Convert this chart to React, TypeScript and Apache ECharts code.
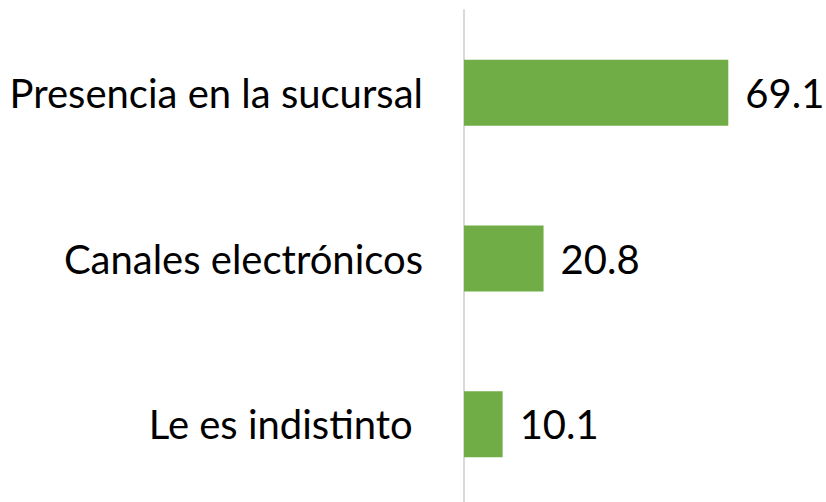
import React, { useEffect, useRef } from "react";
import * as echarts from "echarts";

const categories = ["Presencia en la sucursal", "Canales electrónicos", "Le es indistinto "];
const values = [69.1, 20.8, 10.1];

const FONT = "Lato, 'Liberation Sans', sans-serif";

export default function App() {
  const ref = useRef<HTMLDivElement>(null);
  useEffect(() => {
    document.body.style.margin = "0";
    const chart = echarts.init(ref.current!, null, { renderer: "svg" });
    chart.setOption({
      animation: false,
      backgroundColor: "#ffffff",
      grid: {
        left: 464,
        top: 10,
        width: 306,
        height: 497,
        containLabel: false,
        outerBoundsMode: "none",
      },
      xAxis: {
        type: "value",
        min: 0,
        max: 80,
        show: false,
      },
      yAxis: {
        type: "category",
        data: categories,
        inverse: true,
        axisLine: { show: true, onZero: false, lineStyle: { color: "#d9d9d9", width: 2 } },
        axisTick: { show: false },
        axisLabel: {
          margin: 41,
          color: "#000000",
          fontFamily: FONT,
          fontSize: 40,
        },
      },
      series: [
        {
          type: "bar",
          data: values,
          barWidth: 66,
          itemStyle: { color: "#70AD47" },
          label: {
            show: true,
            position: "right",
            distance: 17,
            color: "#000000",
            fontFamily: FONT,
            fontSize: 40,
            formatter: (p: any) => p.value.toFixed(1),
          },
        },
      ],
    });
    return () => chart.dispose();
  }, []);
  return <div ref={ref} style={{ width: 826, height: 502 }} />;
}
